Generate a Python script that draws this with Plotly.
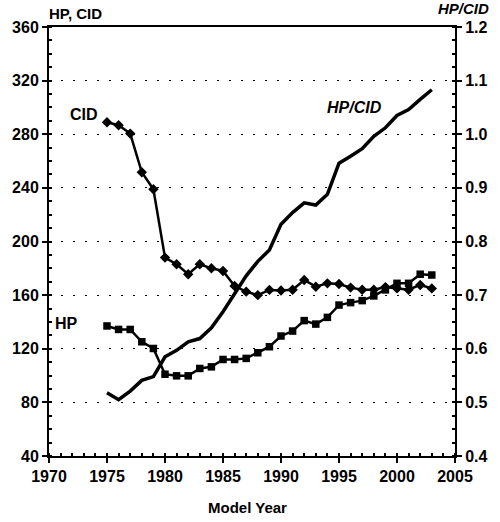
import plotly.graph_objects as go

years = list(range(1975, 2004))
cid = [289, 286.7, 280.5, 251.6, 239, 188, 183, 175.6, 183, 180, 178, 166.8, 162.6, 160,
       163.9, 163.4, 164, 171.3, 166.3, 168.8, 168.3, 165.6, 164, 164, 166, 165, 164, 167.6, 165]
hp = [137, 134.4, 134.4, 125.2, 120.2, 101, 99.8, 99.8, 105.3, 106.5, 112, 112, 112.8, 117,
      121.5, 129.5, 133.2, 141, 138.4, 143.4, 152.6, 154.4, 155.9, 159.4, 163.9, 168.8, 168.8, 175.6, 175]
ratio = [0.518, 0.505, 0.521, 0.541, 0.548, 0.585, 0.597, 0.613, 0.619, 0.639, 0.669, 0.703,
         0.736, 0.763, 0.784, 0.832, 0.854, 0.872, 0.868, 0.888, 0.946, 0.959, 0.973, 0.996,
         1.012, 1.035, 1.046, 1.065, 1.083]

left_ticks = [40, 80, 120, 160, 200, 240, 280, 320, 360]
right_ticks = [0.4, 0.5, 0.6, 0.7, 0.8, 0.9, 1.0, 1.1, 1.2]
right_labels = ["0.4", "0.5", "0.6", "0.7", "0.8", "0.9", "1.0", "1.1", "1.2"]
x_ticks = [1970, 1975, 1980, 1985, 1990, 1995, 2000, 2005]

FONT = "Liberation Sans"
BLACK = "#000000"

fig = go.Figure()
fig.add_trace(go.Scatter(x=years, y=cid, mode="lines+markers", name="CID",
                         line=dict(color=BLACK, width=2.5),
                         marker=dict(symbol="diamond", size=8, color=BLACK)))
fig.add_trace(go.Scatter(x=years, y=hp, mode="lines+markers", name="HP",
                         line=dict(color=BLACK, width=2.5),
                         marker=dict(symbol="square", size=7.5, color=BLACK)))
fig.add_trace(go.Scatter(x=years, y=ratio, mode="lines", name="HP/CID", yaxis="y2",
                         line=dict(color=BLACK, width=3.5)))

fig.update_layout(
    width=500, height=522,
    margin=dict(l=49, r=43, t=27, b=66),
    paper_bgcolor="white", plot_bgcolor="white",
    showlegend=False,
    font=dict(family=FONT, color=BLACK),
    xaxis=dict(range=[1970, 2005], tickvals=x_ticks, ticktext=[str(v) for v in x_ticks],
               showgrid=False, zeroline=False, showline=True, linecolor=BLACK, linewidth=2,
               mirror=True, ticks="outside", ticklen=5, tickwidth=1.5, tickcolor=BLACK,
               minor=dict(dtick=1, ticks="inside", ticklen=3, tickcolor=BLACK, showgrid=False),
               tickfont=dict(family=FONT, size=16, color=BLACK, weight="bold")),
    yaxis=dict(range=[40, 360], tickvals=left_ticks, ticktext=[str(v) for v in left_ticks],
               showgrid=True, gridcolor=BLACK, gridwidth=1, griddash="2px,10px",
               zeroline=False, showline=True, linecolor=BLACK, linewidth=2,
               ticks="outside", ticklen=5, tickwidth=1.5, tickcolor=BLACK,
               minor=dict(dtick=10, ticks="inside", ticklen=3, tickcolor=BLACK, showgrid=False),
               tickfont=dict(family=FONT, size=16, color=BLACK, weight="bold")),
    yaxis2=dict(range=[0.4, 1.2], overlaying="y", side="right",
                tickvals=right_ticks, ticktext=right_labels,
                showgrid=False, zeroline=False, showline=True, linecolor=BLACK, linewidth=2,
                ticks="outside", ticklen=5, tickwidth=1.5, tickcolor=BLACK,
                minor=dict(dtick=0.025, ticks="inside", ticklen=3, tickcolor=BLACK, showgrid=False),
                tickfont=dict(family=FONT, size=16, color=BLACK, weight="bold")),
)

lab = dict(family=FONT, size=16, color=BLACK, weight="bold")
fig.add_annotation(x=1973.0, y=295, xref="x", yref="y", text="CID", showarrow=False, font=lab)
fig.add_annotation(x=1971.5, y=138.7, xref="x", yref="y", text="HP", showarrow=False, font=lab)
fig.add_annotation(x=1996.3, y=300, xref="x", yref="y", text="<i>HP/CID</i>", showarrow=False, font=lab)
fig.add_annotation(x=-0.005, y=1.032, xref="paper", yref="paper", text="HP, CID", showarrow=False,
                   xanchor="left", yanchor="middle", font=dict(family=FONT, size=15, color=BLACK, weight="bold"))
fig.add_annotation(x=1.022, y=1.044, xref="paper", yref="paper", text="<i>HP/CID</i>", showarrow=False,
                   xanchor="center", yanchor="middle", font=dict(family=FONT, size=15, color=BLACK, weight="bold"))
fig.add_annotation(x=0.488, y=-0.121, xref="paper", yref="paper", text="Model Year", showarrow=False,
                   xanchor="center", yanchor="middle", font=dict(family=FONT, size=15, color=BLACK, weight="bold"))

fig.write_html("out.html", config={"displayModeBar": False},
               post_script="document.body.style.margin='0';")
